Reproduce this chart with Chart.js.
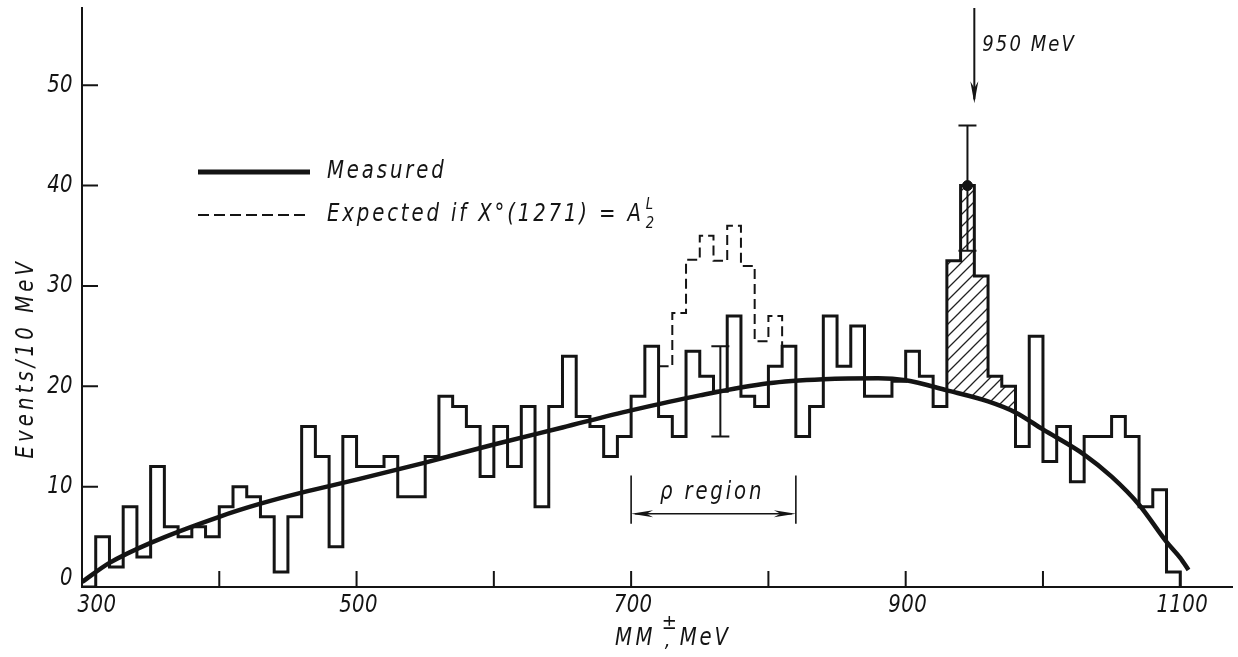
<!DOCTYPE html>
<html>
<head>
<meta charset="utf-8">
<title>MM± spectrum</title>
<script src="https://cdn.jsdelivr.net/npm/chart.js@4.4.1/dist/chart.umd.min.js"></script>
<style>
  html, body { margin: 0; padding: 0; background: #fff; }
  canvas { display: block; }
</style>
</head>
<body>
<canvas id="spectrum" width="1238" height="657"></canvas>
<script>
// ===== DATA =====
// missing-mass histogram, 10 MeV bins starting at 300 MeV
const binStart = 300;
const binWidth = 10;
const measured = [
  0, 5, 2, 8, 3, 12, 6, 5, 6, 5,               // 300-390
  8, 10, 9, 7, 1.5, 7, 16, 13, 4, 15,          // 400-490
  12, 12, 13, 9, 9, 13, 19, 18, 16, 11,        // 500-590
  16, 12, 18, 8, 18, 23, 17, 16, 13, 15,       // 600-690
  19, 24, 17, 15, 23.5, 21, 19.5, 27, 19, 18,  // 700-790
  22, 24, 15, 18, 27, 22, 26, 19, 19, 20.5,    // 800-890
  23.5, 21, 18, 32.5, 40, 31, 21, 20, 14, 25,  // 900-990
  12.5, 16, 10.5, 15, 15, 17, 15, 8, 9.7, 1.5  // 1000-1090
];

// expected histogram inside the rho region (dashed), bins 720-800
const expectedStart = 720;
const expected = [22, 27.3, 32.6, 35, 32.5, 36, 32, 24.5, 27];

// smooth background curve
const fitMass   = [300, 320, 350, 400, 430, 460, 500, 550, 600, 650, 700, 750, 800, 840, 880, 900, 930, 960, 980, 1000, 1030, 1050, 1070, 1090, 1100, 1106];
const fitEvents = [0.5, 2.4, 4.4, 7.0, 8.3, 9.4, 10.7, 12.4, 14.2, 15.9, 17.6, 19.1, 20.3, 20.7, 20.8, 20.6, 19.6, 18.5, 17.4, 15.7, 13.2, 11.0, 8.2, 4.5, 2.9, 1.7];

// hatched excess above the curve
const excessFrom = 930;
const excessTo = 980;

// error bars and the peak point
const errMass = [765, 945];
const errLow  = [15, 33.5];
const errHigh = [24, 46];
const peakMass = [945];
const peakEvents = [40];

const xLabelTicks = [300, 500, 700, 900, 1100];
const xMarkTicks  = [400, 500, 600, 700, 800, 900, 1000, 1100];
const yTicks      = [0, 10, 20, 30, 40, 50];

const rhoRegion = [700, 820];
const arrowMass = 950;

// ===== STYLE =====
const INK = '#141414';
const FONT = "'DejaVu Sans', 'Liberation Sans', sans-serif";
const NARROW = 0.82;   // horizontal squeeze for the drafting lettering

// condensed italic text, anchored at (x, y)
function drawText(ctx, text, x, y, size, align, spacing) {
    ctx.save();
    ctx.translate(x, y);
    ctx.scale(NARROW, 1);
    ctx.font = 'italic ' + size + 'px ' + FONT;
    ctx.letterSpacing = (spacing || 0) + 'px';
    ctx.textAlign = align || 'left';
    ctx.textBaseline = 'middle';
    ctx.fillText(text, 0, 0);
    const w = ctx.measureText(text).width * NARROW;
    ctx.restore();
    return w;
}

// ===== BUILD SERIES =====
function binIndex(mass) {
    return Math.round((mass - binStart) / binWidth);
}

const histPoints = measured.map((v, i) => ({ x: binStart + i * binWidth, y: v }));
histPoints.push({ x: binStart + measured.length * binWidth, y: 0 });

const expectedPoints = expected.map((v, i) => ({ x: expectedStart + i * binWidth, y: v }));
const expectedEnd = expectedStart + expected.length * binWidth;
expectedPoints.push({ x: expectedEnd, y: measured[binIndex(expectedEnd)] });

const excessPoints = [];
for (let m = excessFrom; m < excessTo; m += binWidth) {
    excessPoints.push({ x: m, y: measured[binIndex(m)] });
}
excessPoints.push({ x: excessTo, y: measured[binIndex(excessTo - binWidth)] });

const fitPoints = fitMass.map((m, i) => ({ x: m, y: fitEvents[i] }));
const peakPoints = peakMass.map((m, i) => ({ x: m, y: peakEvents[i] }));

// diagonal hatching for the excess
function hatchPattern(ctx) {
    const tile = document.createElement('canvas');
    tile.width = 12;
    tile.height = 12;
    const g = tile.getContext('2d');
    g.strokeStyle = '#222';
    g.lineWidth = 1.3;
    g.beginPath();
    g.moveTo(0, 12); g.lineTo(12, 0);
    g.moveTo(-3, 3); g.lineTo(3, -3);
    g.moveTo(9, 15); g.lineTo(15, 9);
    g.stroke();
    return ctx.createPattern(tile, 'repeat');
}

// ===== ANNOTATIONS =====
function arrowHead(ctx, x, y, dx, dy, len, half) {
    // filled narrow head pointing along (dx, dy)
    const nx = -dy, ny = dx;
    ctx.beginPath();
    ctx.moveTo(x, y);
    ctx.lineTo(x - dx * len + nx * half, y - dy * len + ny * half);
    ctx.lineTo(x - dx * len * 0.7, y - dy * len * 0.7);
    ctx.lineTo(x - dx * len - nx * half, y - dy * len - ny * half);
    ctx.closePath();
    ctx.fill();
}

const decorations = {
    id: 'decorations',
    afterDatasetsDraw(chart) {
        const { ctx, chartArea, scales: { x, y } } = chart;
        ctx.save();
        ctx.strokeStyle = INK;
        ctx.fillStyle = INK;
        ctx.lineCap = 'butt';

        // tick marks pointing into the plot
        ctx.lineWidth = 2;
        ctx.beginPath();
        xMarkTicks.forEach(v => {
            const px = x.getPixelForValue(v);
            ctx.moveTo(px, chartArea.bottom);
            ctx.lineTo(px, chartArea.bottom - 16);
        });
        yTicks.filter(v => v > 0).forEach(v => {
            const py = y.getPixelForValue(v);
            ctx.moveTo(chartArea.left, py);
            ctx.lineTo(chartArea.left + 16, py);
        });
        ctx.stroke();

        // tick labels
        xLabelTicks.forEach((v, i) => {
            const shift = i === 0 ? 15 : 2;
            drawText(ctx, String(v), x.getPixelForValue(v) + shift, chartArea.bottom + 19, 24, 'center', 0.5);
        });
        yTicks.forEach(v => {
            const lift = v === 0 ? -8 : 0;
            drawText(ctx, String(v), chartArea.left - 9, y.getPixelForValue(v) + lift, 24, 'right', 0.5);
        });

        // error bars
        ctx.lineWidth = 2;
        errMass.forEach((m, i) => {
            const px = x.getPixelForValue(m);
            const lo = y.getPixelForValue(errLow[i]);
            const hi = y.getPixelForValue(errHigh[i]);
            ctx.beginPath();
            ctx.moveTo(px, lo); ctx.lineTo(px, hi);
            ctx.moveTo(px - 9, lo); ctx.lineTo(px + 9, lo);
            ctx.moveTo(px - 9, hi); ctx.lineTo(px + 9, hi);
            ctx.stroke();
        });

        // 950 MeV marker
        const ax = x.getPixelForValue(arrowMass);
        const tip = y.getPixelForValue(48.2);
        ctx.lineWidth = 2;
        ctx.beginPath();
        ctx.moveTo(ax, chartArea.top);
        ctx.lineTo(ax, tip - 4);
        ctx.stroke();
        arrowHead(ctx, ax, tip, 0, 1, 22, 4);
        drawText(ctx, '950 MeV', ax + 8, chartArea.top + 37, 22, 'left', 2.5);

        // rho region bracket
        const r0 = x.getPixelForValue(rhoRegion[0]);
        const r1 = x.getPixelForValue(rhoRegion[1]);
        const rTop = y.getPixelForValue(11.1);
        const rBot = y.getPixelForValue(6.3);
        const rMid = y.getPixelForValue(7.3);
        ctx.lineWidth = 1.6;
        ctx.beginPath();
        ctx.moveTo(r0, rTop); ctx.lineTo(r0, rBot);
        ctx.moveTo(r1, rTop); ctx.lineTo(r1, rBot);
        ctx.moveTo(r0 + 4, rMid); ctx.lineTo(r1 - 4, rMid);
        ctx.stroke();
        arrowHead(ctx, r0, rMid, -1, 0, 22, 3.5);
        arrowHead(ctx, r1, rMid, 1, 0, 22, 3.5);
        drawText(ctx, '\u03c1 region', x.getPixelForValue(759), y.getPixelForValue(9.4), 24, 'center', 3.5);

        // legend
        const lx = chartArea.left + 116;
        const ly = chartArea.top + 164;
        ctx.lineWidth = 5;
        ctx.beginPath();
        ctx.moveTo(lx, ly); ctx.lineTo(lx + 112, ly);
        ctx.stroke();
        ctx.lineWidth = 2;
        ctx.setLineDash([11, 5]);
        ctx.beginPath();
        ctx.moveTo(lx, ly + 43); ctx.lineTo(lx + 112, ly + 43);
        ctx.stroke();
        ctx.setLineDash([]);
        drawText(ctx, 'Measured', lx + 129, ly, 24, 'left', 3.5);
        const ew = drawText(ctx, 'Expected if X\u00b0(1271) = A', lx + 129, ly + 43, 24, 'left', 3.5);
        drawText(ctx, '2', lx + 131 + ew, ly + 52, 16, 'left', 0);
        drawText(ctx, 'L', lx + 131 + ew, ly + 33, 16, 'left', 0);

        // axis titles
        ctx.save();
        ctx.translate(27, y.getPixelForValue(22.8));
        ctx.rotate(-Math.PI / 2);
        drawText(ctx, 'Events/10 MeV', 0, 0, 24, 'center', 5);
        ctx.restore();

        const tx = x.getPixelForValue(700) - 16;
        const ty = chartArea.bottom + 52;
        const mw = drawText(ctx, 'MM', tx, ty, 24, 'left', 4);
        drawText(ctx, '\u00b1', tx + mw + 6, ty - 16, 22, 'left', 0);
        drawText(ctx, ',', tx + mw + 9, ty + 2, 22, 'left', 0);
        drawText(ctx, 'MeV', tx + mw + 24, ty, 24, 'left', 3.5);

        ctx.restore();
    }
};

// ===== CHART =====
const canvas = document.getElementById('spectrum');
const ctx = canvas.getContext('2d');

new Chart(ctx, {
    type: 'scatter',
    data: {
        datasets: [
            {
                label: 'Measured',
                data: histPoints,
                showLine: true,
                stepped: true,
                borderColor: INK,
                borderWidth: 3,
                pointRadius: 0,
                fill: false
            },
            {
                label: 'Fit',
                data: fitPoints,
                showLine: true,
                cubicInterpolationMode: 'monotone',
                borderColor: INK,
                borderWidth: 4.5,
                pointRadius: 0,
                fill: false
            },
            {
                label: 'Peak',
                data: peakPoints,
                showLine: false,
                pointRadius: 5,
                pointBackgroundColor: INK,
                pointBorderColor: INK
            },
            {
                label: 'Expected',
                data: expectedPoints,
                showLine: true,
                stepped: true,
                borderColor: INK,
                borderWidth: 2,
                borderDash: [10, 5],
                pointRadius: 0,
                fill: false
            },
            {
                label: 'Excess',
                data: excessPoints,
                showLine: true,
                stepped: true,
                borderWidth: 0,
                borderColor: 'rgba(0,0,0,0)',
                backgroundColor: hatchPattern(ctx),
                pointRadius: 0,
                fill: { target: 1 }
            }
        ]
    },
    options: {
        responsive: false,
        animation: false,
        layout: { padding: { top: 8, right: 0, left: 0, bottom: 0 } },
        plugins: {
            legend: { display: false },
            tooltip: { enabled: false },
            title: { display: false }
        },
        scales: {
            x: {
                type: 'linear',
                min: 300,
                max: 1137.7,
                grid: { display: false, drawTicks: false },
                border: { display: true, color: INK, width: 2 },
                ticks: { display: false },
                afterBuildTicks: s => { s.ticks = xLabelTicks.map(v => ({ value: v })); },
                afterFit: s => { s.height = 70; s.paddingLeft = 0; s.paddingRight = 0; }
            },
            y: {
                min: 0,
                max: 57.7,
                grid: { display: false, drawTicks: false },
                border: { display: true, color: INK, width: 2 },
                ticks: { display: false },
                afterBuildTicks: s => { s.ticks = yTicks.map(v => ({ value: v })); },
                afterFit: s => { s.width = 82; s.paddingTop = 0; s.paddingBottom = 0; }
            }
        }
    },
    plugins: [decorations]
});
</script>
</body>
</html>
